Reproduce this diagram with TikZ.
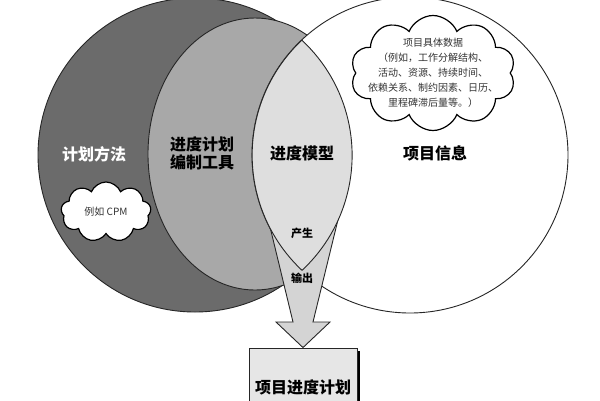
\documentclass[tikz,border=0pt]{standalone}
\usepackage{fontspec}
\newfontfamily\cjk{Noto Sans CJK SC}
\usetikzlibrary{shapes.symbols,shadows}
\definecolor{vdark}{HTML}{6B6B6B}
\definecolor{vmid}{HTML}{A8A8A8}
\definecolor{vlens}{HTML}{DEDEDE}
\definecolor{varrow}{HTML}{D4D4D4}
\definecolor{vbox}{HTML}{E6E6E6}
\begin{document}
\begin{tikzpicture}[
  x=1pt,y=-1pt,
  ring/.style={draw=black!85,line width=0.9pt},
  big/.style={font=\cjk\bfseries\fontsize{16}{18}\selectfont,align=center,inner sep=0pt},
  small/.style={font=\cjk\bfseries\fontsize{11}{13}\selectfont,inner sep=0pt},
  puff/.style={cloud,cloud puffs=10,cloud puff arc=135,draw,line width=1.2pt,fill=white,inner sep=0pt},
  note/.style={font=\cjk\fontsize{10}{15}\selectfont,text=black!80,align=center,inner sep=0pt},
  schedbox/.style={ring,fill=vbox,minimum width=108pt,minimum height=78pt,inner sep=0pt,
    drop shadow={shadow xshift=3pt,shadow yshift=-3pt,fill=black,opacity=1}}]
\clip (0,0) rectangle (600,400);
\useasboundingbox (0,0) rectangle (600,400);

% ---------- three circles: method, tool, project information ----------
\filldraw[ring,fill=vdark] (195,155) circle (157);
\filldraw[ring,fill=vmid] (255,154) ellipse (107 and 136);
\filldraw[ring,fill=white] (410,155) circle (158);

% ---------- schedule box and the output arrow ----------
\node[schedbox,font=\cjk\bfseries\fontsize{16}{18}\selectfont] (sched) at (303,387) {项目进度计划};
\filldraw[ring,fill=varrow] (263.5,200) -- (293,322) -- (276,322) -- (sched.north)
  -- (330,322) -- (313,322) -- (342.8,200) -- cycle;

% ---------- lens: where method meets information ----------
\filldraw[ring,fill=vlens] (302,40) arc[start angle=226.8,end angle=133.2,radius=158]
  arc[start angle=47.1,end angle=-47.1,radius=157] -- cycle;

% ---------- labels ----------
\node[big,text=white] (method) at (94,154) {计划方法};
\node[big] (tool) at (202,153) {进度计划\\编制工具};
\node[big] (model) at (302,153) {进度模型};
\node[big] (info) at (435,153) {项目信息};
\node[small] (make) at (302,233) {产生};
\node[small] (out) at (302,278) {输出};

% ---------- clouds ----------
\node[puff,minimum width=165pt,minimum height=115pt] (data) at (433,73) {};
\node[note] (datatext) at (data) {项目具体数据\\（例如，工作分解结构、\\活动、资源、持续时间、\\依赖关系、制约因素、日历、\\里程碑滞后量等。）};
\node[puff,cloud puffs=9,minimum width=90pt,minimum height=60pt] (cpm) at (106,212) {};
\node[note] (cpmtext) at (cpm) {例如 CPM};
\end{tikzpicture}
\end{document}
